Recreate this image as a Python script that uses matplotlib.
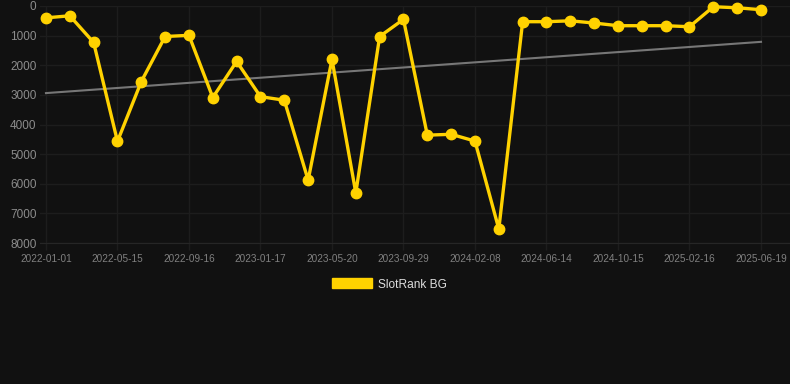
import matplotlib
matplotlib.use("Agg")
import matplotlib.pyplot as plt
from matplotlib.patches import Patch

plt.rcParams['font.family'] = ['Liberation Sans', 'DejaVu Sans']

# Data (rank; lower is better, axis inverted)
rank_values = [400, 330, 1230, 4570, 2550, 1030, 990, 3090, 1870, 3060,
               3180, 5880, 1800, 6310, 1030, 450, 4360, 4330, 4560, 7530,
               530, 530, 500, 575, 665, 665, 665, 700, 25, 60, 125]
tick_labels = ["2022-01-01", "2022-05-15", "2022-09-16", "2023-01-17",
               "2023-05-20", "2023-09-29", "2024-02-08", "2024-06-14",
               "2024-10-15", "2025-02-16", "2025-06-19"]
trend_values = [2940, 1210]
series_name = "SlotRank BG"

BG = "#111111"
GOLD = "#FFD200"
GRID = "#1d1d1d"

W, H = 790, 384
fig = plt.figure(figsize=(W / 100, H / 100), dpi=100, facecolor=BG)
left, right, top, bottom = 40, 790, 6, 243
ax = fig.add_axes([left / W, 1 - bottom / H, (right - left) / W, (bottom - top) / H])
ax.set_facecolor(BG)

x = list(range(len(rank_values)))
ax.plot([x[0], x[-1]], trend_values, color="#777777", lw=1.5, zorder=2)
ax.plot(x, rank_values, color=GOLD, lw=2.4, marker="o", markersize=7.5,
        markerfacecolor=GOLD, markeredgecolor=GOLD, zorder=3, clip_on=False,
        solid_joinstyle="miter")

ax.set_ylim(8000, 0)
ax.set_yticks(range(0, 8001, 1000))
ax.set_yticklabels([str(v) for v in range(0, 8001, 1000)])
step = 3
ax.set_xticks(x[::step])
ax.set_xticklabels(tick_labels)
ax.set_xlim(-0.25, (right - 46) / ((761 - 46) / 30))

ax.grid(True, color=GRID, lw=1)
for s in ["top", "right", "left"]:
    ax.spines[s].set_visible(False)
ax.spines["bottom"].set_color("#262626")
ax.tick_params(axis="y", length=0, pad=2.5, labelsize=8.5, labelcolor="#8c8c8c")
ax.tick_params(axis="x", length=5, width=1, color=GRID, pad=3,
               labelsize=7.2, labelcolor="#808080")

handle = Patch(facecolor=GOLD, edgecolor=GOLD)
fig.legend([handle], [series_name], loc="center",
           bbox_to_anchor=(389.5 / W, 1 - 284.5 / H), frameon=False,
           handlelength=3.3, handleheight=0.9, handletextpad=0.5,
           borderpad=0, fontsize=8.6, labelcolor="#dddddd")

fig.savefig("out.png", dpi=100, facecolor=BG)
